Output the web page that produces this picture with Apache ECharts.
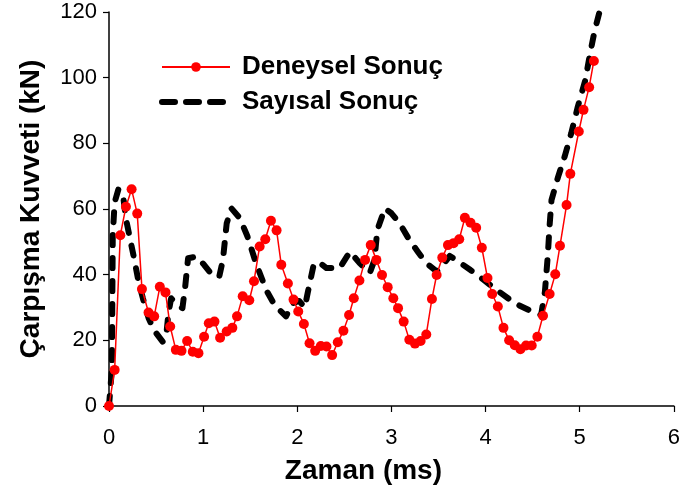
<!DOCTYPE html>
<html>
<head>
<meta charset="utf-8">
<script src="https://cdn.jsdelivr.net/npm/echarts@6/dist/echarts.min.js"></script>
<style>html,body{margin:0;padding:0;background:#fff;}#c{width:683px;height:502px;}</style>
</head>
<body>
<div id="c"></div>
<script>
const seriesNames = ['Deneysel Sonuç', 'Sayısal Sonuç'];
const xTicks = [0, 1, 2, 3, 4, 5, 6];
const yTicks = [0, 20, 40, 60, 80, 100, 120];

const deneyselTime = [0,0.06,0.12,0.18,0.24,0.30,0.35,0.42,0.48,0.54,0.60,0.65,0.71,0.77,0.83,0.89,0.95,1.01,1.06,1.12,1.18,1.25,1.31,1.36,1.42,1.49,1.54,1.60,1.66,1.72,1.78,1.83,1.90,1.96,2.01,2.07,2.13,2.19,2.25,2.31,2.37,2.43,2.49,2.55,2.60,2.66,2.72,2.78,2.84,2.90,2.96,3.02,3.07,3.13,3.19,3.25,3.31,3.37,3.43,3.48,3.54,3.60,3.66,3.72,3.78,3.84,3.90,3.96,4.02,4.07,4.13,4.19,4.25,4.31,4.37,4.43,4.49,4.55,4.61,4.68,4.74,4.79,4.86,4.90,4.99,5.04,5.10,5.15];
const deneyselForce = [0,11,52,60.7,66,58.6,35.6,28.5,27.3,36.3,34.6,24.2,17.1,16.8,19.8,16.5,16.1,21.1,25.2,25.7,20.8,22.7,23.8,27.3,33.4,32.2,38,48.6,50.8,56.4,53.5,43,37.3,32.4,28.8,25,19.1,16.8,18.3,18.1,15.5,19.4,22.9,27.7,32.8,38.2,44.5,49,44.5,39.9,36.2,32.8,29.8,25.7,20.2,19,19.8,21.8,32.6,39.9,45.2,49,49.6,50.8,57.3,55.8,54.3,48.2,39,34.1,30.3,23.8,20,18.5,17.3,18.4,18.4,21.1,27.5,34.1,40.1,48.8,61.2,70.7,83.6,90.2,97.1,105.1];

const sayisalTime = [0,0.03,0.035,0.04,0.06,0.10,0.15,0.18,0.23,0.27,0.31,0.36,0.42,0.48,0.57,0.61,0.63,0.66,0.71,0.78,0.81,0.84,0.93,1.01,1.08,1.14,1.17,1.21,1.25,1.30,1.39,1.47,1.56,1.67,1.76,1.88,1.95,2.02,2.08,2.11,2.17,2.22,2.31,2.45,2.56,2.66,2.77,2.82,2.85,2.93,3.00,3.09,3.19,3.28,3.37,3.48,3.52,3.62,3.71,3.84,3.98,4.12,4.31,4.49,4.59,4.63,4.66,4.68,4.70,4.77,4.84,4.91,4.98,5.06,5.11,5.16,5.21];
const sayisalForce = [0,11,31,52,62,66,64,57,50,44.5,38.4,32.8,26.8,23,19.6,22,28,32.8,31.3,29.8,36.5,45,45.5,43,40.5,39.5,39.3,44.5,55.6,60.2,57.2,51.7,43.6,35.3,30.7,27.3,31.3,32,30,34.4,42.5,44,42,42,47,43.6,40.5,44.5,53.6,60.2,58.7,55.5,50.6,47,43.5,41,42,45.7,44,41.4,38.4,35.3,31.3,28.8,27.7,34.8,45.5,55,62.7,69.8,76,83.1,91.2,99.3,107.4,114.5,120];

const pair = (xs, ys) => xs.map((x, i) => [x, ys[i]]);

const FONT = 'Arial, "Liberation Sans", sans-serif';
const dashStyle = {color: '#000', width: 6, type: [10, 13], cap: 'round', join: 'round'};

const chart = echarts.init(document.getElementById('c'), null, {renderer: 'canvas'});
const axisFont = {fontFamily: FONT, fontSize: 22, color: '#000'};
chart.setOption({
  animation: false,
  backgroundColor: '#fff',
  grid: {left: 109, right: 9, top: 12, bottom: 96, containLabel: false},
  legend: {
    orient: 'vertical', left: 154, top: 49, itemWidth: 68, itemHeight: 12, itemGap: 9,
    textStyle: {fontFamily: FONT, fontSize: 26, fontWeight: 'bold', color: '#000', lineHeight: 26, padding: [0, 0, 0, 7]},
    data: [
      {name: seriesNames[0]},
      {name: seriesNames[1], itemStyle: {opacity: 0}, lineStyle: {color: '#000', width: 6, type: [13, 11], cap: 'round'}}
    ]
  },
  xAxis: {
    type: 'value', min: xTicks[0], max: xTicks[xTicks.length - 1], interval: 1,
    name: 'Zaman (ms)', nameLocation: 'middle', nameGap: 51,
    nameTextStyle: {fontFamily: FONT, fontSize: 28, fontWeight: 'bold', color: '#000', padding: [0, 56, 0, 0]},
    axisLine: {onZero: false, lineStyle: {color: '#000', width: 1.5}},
    axisTick: {inside: false, length: 6, lineStyle: {color: '#000', width: 1.2}},
    axisLabel: Object.assign({margin: 21}, axisFont),
    splitLine: {show: false}
  },
  yAxis: {
    type: 'value', min: yTicks[0], max: yTicks[yTicks.length - 1], interval: 20,
    name: 'Çarpışma Kuvveti (kN)', nameLocation: 'middle', nameGap: 64, nameRotate: 90,
    nameTextStyle: {fontFamily: FONT, fontSize: 28, fontWeight: 'bold', color: '#000'},
    axisLine: {show: true, onZero: false, lineStyle: {color: '#000', width: 1.5}},
    axisTick: {show: true, inside: false, length: 6, lineStyle: {color: '#000', width: 1.2}},
    axisLabel: Object.assign({margin: 12}, axisFont),
    splitLine: {show: false}
  },
  series: [
    {
      name: seriesNames[0], type: 'line', data: pair(deneyselTime, deneyselForce),
      symbol: 'circle', symbolSize: 10, showSymbol: true,
      itemStyle: {color: '#ff0000'},
      lineStyle: {color: '#ff0000', width: 1.5},
      z: 3
    },
    {
      name: seriesNames[1], type: 'line', data: pair(sayisalTime, sayisalForce),
      symbol: 'none', showSymbol: false,
      itemStyle: {color: '#000'},
      lineStyle: dashStyle,
      z: 2
    }
  ]
});
</script>
</body>
</html>
